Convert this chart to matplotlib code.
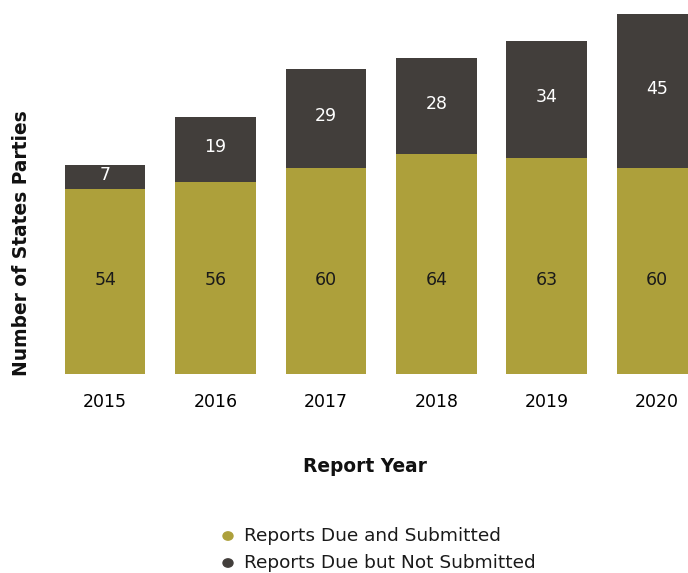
import matplotlib.pyplot as plt
import numpy as np

plt.rcParams["font.family"] = ["DejaVu Sans"]

YEARS = ["2015", "2016", "2017", "2018", "2019", "2020"]
SUBMITTED = [54, 56, 60, 64, 63, 60]
NOT_SUBMITTED = [7, 19, 29, 28, 34, 45]
SERIES_LABELS = ["Reports Due and Submitted", "Reports Due but Not Submitted"]

OLIVE = "#ADA03B"
DARK = "#423E3B"

fig = plt.figure(figsize=(6.88, 5.73), dpi=100)
ax = fig.add_axes([50 / 688, 199 / 573, 638 / 688, 374 / 573])

x = np.arange(len(YEARS))
sub = np.array(SUBMITTED)
nots = np.array(NOT_SUBMITTED)
width = 0.73
ax.bar(x, sub, width, color=OLIVE, label=SERIES_LABELS[0])
ax.bar(x, nots, width, bottom=sub, color=DARK, label=SERIES_LABELS[1])

# submitted labels sit on a common baseline, missing ones mid-segment
for xi, s, n in zip(x, sub, nots):
    ax.text(xi, 27.4, str(s), ha="center", va="center", fontsize=12.5, color="#1a1a1a")
    ax.text(xi, s + n / 2 + 0.6, str(n), ha="center", va="center", fontsize=12.5,
            color="white")

ax.set_xlim(-0.5, 5.28)
ax.set_ylim(0, 109)
ax.set_xticks(x, YEARS, fontsize=12.5)
ax.tick_params(axis="x", length=0, pad=14)
ax.set_yticks([])
for sp in ax.spines.values():
    sp.set_visible(False)

fig.text(22 / 688, 1 - 243 / 573, "Number of States Parties", rotation=90,
         ha="center", va="center", fontsize=13.4, fontweight="bold", color="#111111")
fig.text(365 / 688, 1 - 466 / 573, "Report Year", ha="center", va="center",
         fontsize=13.4, fontweight="bold", color="#111111")

for i, (lab, col) in enumerate(zip(SERIES_LABELS, [OLIVE, DARK])):
    yy = 1 - (536 + 27 * i) / 573
    fig.text(244 / 688, yy, lab, ha="left", va="center", fontsize=13.3, color="#1a1a1a")
    fig.patches.append(plt.Circle((228 / 688, yy), 5 / 688, transform=fig.transFigure,
                                  color=col, figure=fig))

fig.savefig("out.png", dpi=100)
